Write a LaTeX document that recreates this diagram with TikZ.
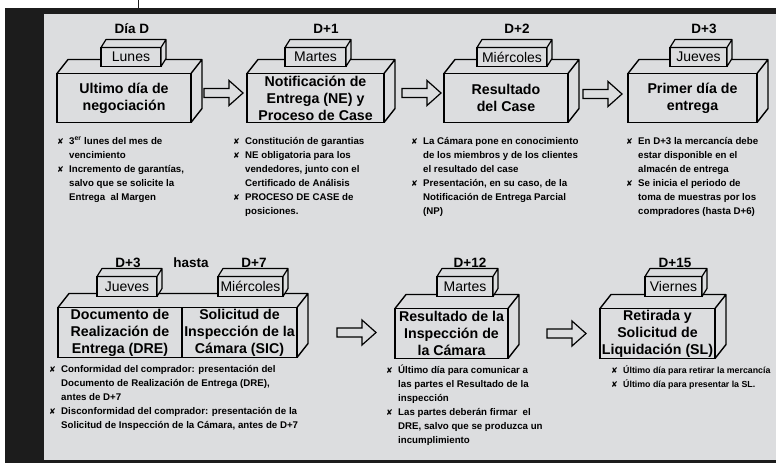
\documentclass[tikz,border=0pt]{standalone}
\usepackage{fontspec}
\setmainfont{Liberation Sans}
\newfontfamily\symfont{DejaVu Sans}
\usetikzlibrary{calc}
\definecolor{panelgray}{RGB}{220,221,223}
\definecolor{framedark}{RGB}{28,28,28}
\newcommand{\bulx}{\makebox[12pt][l]{\symfont\fontsize{8}{8}\selectfont ✘}}
\newcommand{\bulind}{\hspace*{12pt}}
\tikzset{
  dayhead/.style={font=\bfseries\fontsize{13.5}{15}\selectfont, inner sep=0pt},
  daybox/.style={draw, fill=panelgray, line width=1.2pt, inner sep=0pt, outer sep=0pt, minimum height=20pt, font=\fontsize{14}{16}\selectfont},
  frontbox/.style={draw, line width=1.4pt, inner sep=0pt, outer sep=0pt, minimum height=49pt, align=center, font=\bfseries\fontsize{14.2}{17}\selectfont},
  boxedge/.style={line width=1.4pt, line join=round},
  dayedge/.style={line width=1.2pt, line join=round, fill=panelgray},
  notes/.style={anchor=north west, inner sep=0pt, align=left, font=\bfseries\fontsize{9.7}{14}\selectfont, execute at begin node={\rule{0pt}{10pt}}},
  hollowarrow/.style={draw, line width=1.2pt, line join=miter},
  pics/blockarrow/.style={code={
    \draw[hollowarrow] (0,-4.5) -- (25,-4.5) -- (25,-12.5) -- (39,0) -- (25,12.5) -- (25,4.5) -- (0,4.5) -- cycle;
  }}
}

\begin{document}
\begin{tikzpicture}[x=1pt, y=-1pt]
% frame
\fill[white] (0,0) rectangle (776,462);
\fill[framedark] (5,8) rectangle (776,462);
\fill[panelgray] (44,14) rectangle (776,459);
\draw[framedark, line width=1pt] (138.5,0) -- (138.5,8);
\useasboundingbox (0,0) rectangle (776,462);

% top row
\node[frontbox, minimum width=134pt] (ultimo) at (124,97.5) {Ultimo día de\\negociación};
\node[frontbox, minimum width=137pt] (notif) at (315.5,97.5) {Notificación de\\Entrega (NE) y\\Proceso de Case};
\node[frontbox, minimum width=124pt] (rescase) at (506,97.5) {Resultado\\del Case};
\node[frontbox, minimum width=129pt] (primer) at (692.5,97.5) {Primer día de\\entrega};

% bottom row
\node[frontbox, minimum width=124pt, minimum height=50pt] (dre) at (120,332) {Documento de\\Realización de\\Entrega (DRE)};
\node[frontbox, minimum width=115pt, minimum height=50pt] (sic) at (239.5,332) {Solicitud de\\Inspección de la\\Cámara (SIC)};
\node[frontbox, minimum width=113pt, minimum height=50pt] (insp) at (451.5,333) {Resultado de la\\Inspección de\\la Cámara};
\node[frontbox, minimum width=115pt, minimum height=50pt] (retir) at (657.5,333) {Retirada y\\Solicitud de\\Liquidación (SL)};

% depth of the big boxes
\foreach \f in {ultimo,notif,rescase,primer,insp,retir}
  \draw[boxedge] (\f.north west) -- ++(11,-14) -- ($(\f.north east)+(11,-14)$) -- ($(\f.south east)+(11,-14)$) -- (\f.south east)
    (\f.north east) -- ++(11,-14);
\draw[boxedge] (dre.north west) -- ++(11,-14) -- ($(sic.north east)+(11,-14)$) -- ($(sic.south east)+(11,-14)$) -- (sic.south east)
  (sic.north east) -- ++(11,-14);

% days
\node[dayhead] (hd0) at (132,28) {Día D};
\node[dayhead] (hd1) at (326,28) {D+1};
\node[dayhead] (hd2) at (517,28) {D+2};
\node[dayhead] (hd3) at (704,28) {D+3};
\node[dayhead] (hd4) at (128,262) {D+3};
\node[dayhead] (hasta) at (191,262) {hasta};
\node[dayhead] (hd5) at (254,262) {D+7};
\node[dayhead] (hd6) at (470,262) {D+12};
\node[dayhead] (hd7) at (675,262) {D+15};

\node[daybox, minimum width=60pt, minimum height=19pt] (lunes) at (131,56.5) {Lunes};
\node[daybox, minimum width=61pt, minimum height=19pt] (martes) at (315.5,56.5) {Martes};
\node[daybox, minimum width=70pt, minimum height=19pt] (mierc) at (512,56.5) {Miércoles};
\node[daybox, minimum width=57pt, minimum height=19pt] (jueves) at (698.5,56.5) {Jueves};
\node[daybox, minimum width=60pt] (juevesb) at (127,286) {Jueves};
\node[daybox, minimum width=65pt] (miercb) at (250.5,286) {Miércoles};
\node[daybox, minimum width=56pt] (martesb) at (465,286) {Martes};
\node[daybox, minimum width=57pt] (viernes) at (673.5,286) {Viernes};
\foreach \d in {lunes,martes,mierc,jueves,juevesb,miercb,martesb,viernes}
  \filldraw[dayedge] (\d.north west) -- ++(5,-8) -- ($(\d.north east)+(5,-8)$) -- ($(\d.south east)+(5,-8)$) -- (\d.south east) -- (\d.north east) -- cycle
    (\d.north east) -- ++(5,-8);

% arrows between the boxes
\pic at ($(ultimo.east)+(13,-5)$) {blockarrow};
\pic at ($(notif.east)+(18,-5)$) {blockarrow};
\pic at ($(rescase.east)+(15,-4)$) {blockarrow};
\pic at ($(sic.east)+(40,0)$) {blockarrow};
\pic at ($(insp.east)+(39,0)$) {blockarrow};

% notes
\node[notes] (note0) at (57,136.5) {\bulx 3\textsuperscript{er} lunes del mes de\\\bulind vencimiento\\\bulx Incremento de garantías,\\\bulind salvo que se solicite la\\\bulind Entrega~ al Margen};
\node[notes] (note1) at (233,136.5) {\bulx Constitución de garantias\\\bulx NE obligatoria para los\\\bulind vendedores, junto con el\\\bulind Certificado de Análisis\\\bulx PROCESO DE CASE de\\\bulind posiciones.};
\node[notes] (note2) at (411,136.5) {\bulx La Cámara pone en conocimiento\\\bulind de los miembros y de los clientes\\\bulind el resultado del case\\\bulx Presentación, en su caso, de la\\\bulind Notificación de Entrega Parcial\\\bulind (NP)};
\node[notes] (note3) at (626,136.5) {\bulx En D+3 la mercancía debe\\\bulind estar disponible en el\\\bulind almacén de entrega\\\bulx Se inicia el periodo de\\\bulind toma de muestras por los\\\bulind compradores (hasta D+6)};
\node[notes] (note4) at (49,364.5) {\bulx Conformidad del comprador: presentación del\\\bulind Documento de Realización de Entrega (DRE),\\\bulind antes de D+7\\\bulx Disconformidad del comprador: presentación de la\\\bulind Solicitud de Inspección de la Cámara, antes de D+7};
\node[notes] (note5) at (386,364.5) {\bulx Último día para comunicar a\\\bulind las partes el Resultado de la\\\bulind inspección\\\bulx Las partes deberán firmar~ el\\\bulind DRE, salvo que se produzca un\\\bulind incumplimiento};
\node[notes, font=\bfseries\fontsize{8.8}{14}\selectfont] (note6) at (611,364.5) {\bulx Último día para retirar la mercancía\\\bulx Último día para presentar la SL.};
\end{tikzpicture}
\end{document}
